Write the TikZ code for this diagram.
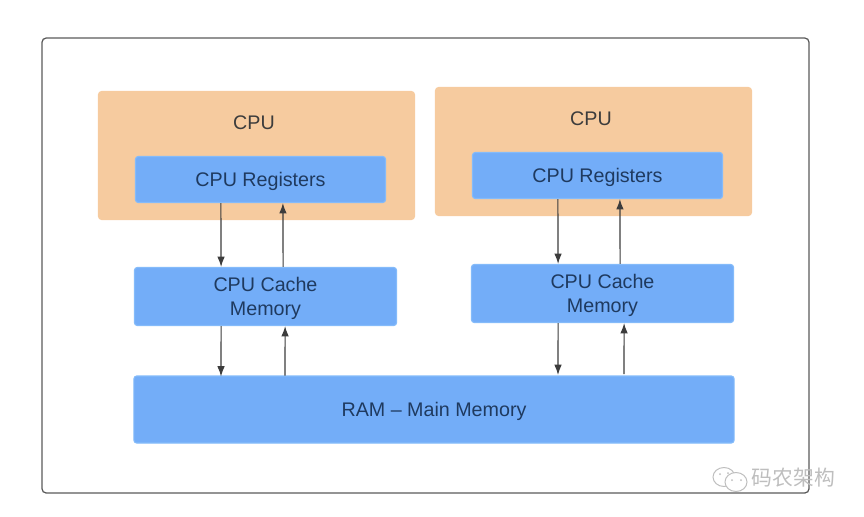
\documentclass[tikz,border=0pt]{standalone}
\usepackage{fontspec}
\setmainfont{Liberation Sans}
\newfontfamily\cjk{Noto Sans CJK SC}
\usetikzlibrary{arrows.meta}
\definecolor{orangefl}{HTML}{F6CB9F}
\definecolor{blaufl}{HTML}{73ADF8}
\definecolor{blaurd}{HTML}{84BBFA}
\definecolor{blautx}{HTML}{1F3A5F}
\definecolor{grau}{HTML}{3C3C3C}
\definecolor{rahmen}{HTML}{5A5A5A}
\definecolor{marke}{HTML}{BEBEBE}
\tikzset{
  cpubox/.style={fill=orangefl,rounded corners=2.5pt,minimum width=7.925cm,minimum height=3.225cm,inner sep=0pt},
  membox/.style={fill=blaufl,draw=blaurd,line width=0.8pt,rounded corners=2pt,inner sep=0pt,text=blautx,text depth=0pt,font=\fontsize{14}{17}\selectfont,align=center},
  regbox/.style={membox,minimum width=6.25cm,minimum height=1.15cm},
  cachebox/.style={membox,minimum width=6.55cm,minimum height=1.45cm},
  titel/.style={grau,font=\fontsize{14}{17}\selectfont},
  pfeil/.style={-{Latex[length=2.6mm,width=1.9mm]},grau,line width=0.8pt},
  marklinie/.style={marke,line width=0.7pt,fill=white},
}
\begin{document}
\begin{tikzpicture}[x=0.025cm,y=-0.025cm]
  \useasboundingbox (0,0) rectangle (864,516);
  \draw[rahmen,line width=0.9pt,rounded corners=3pt] (42,38) rectangle (809,493);
  % left and right CPU
  \node[cpubox] (cpuL) at (256.5,155.5) {};
  \node[cpubox] (cpuR) at (593.5,151.5) {};
  \node[titel] (titelL) at (254,123) {CPU};
  \node[titel] (titelR) at (591,119) {CPU};
  \node[regbox] (regL) at (260.5,179.5) {CPU Registers};
  \node[regbox] (regR) at (597.5,175.5) {CPU Registers};
  \node[cachebox] (cacheL) at (265.5,296.5) {CPU Cache\\Memory};
  \node[cachebox] (cacheR) at (602.5,293.5) {CPU Cache\\Memory};
  \node[membox,minimum width=15cm,minimum height=1.675cm] (ram) at (434,409.5) {RAM -- Main Memory};
  % arrows
  \draw[pfeil] ([xshift=-0.99cm]regL.south) -- ([xshift=-1.11cm]cacheL.north);
  \draw[pfeil] ([xshift=0.44cm]cacheL.north) -- ([xshift=0.56cm]regL.south);
  \draw[pfeil] ([xshift=-0.99cm]regR.south) -- ([xshift=-1.11cm]cacheR.north);
  \draw[pfeil] ([xshift=0.44cm]cacheR.north) -- ([xshift=0.56cm]regR.south);
  \draw[pfeil] ([xshift=-1.11cm]cacheL.south) -- (221,376.5);
  \draw[pfeil] (285,375.5) -- ([xshift=0.49cm]cacheL.south);
  \draw[pfeil] ([xshift=-1.11cm]cacheR.south) -- (558,375);
  \draw[pfeil] (624,374) -- ([xshift=0.54cm]cacheR.south);
  % watermark
  \draw[marklinie] (724,477) ellipse (11 and 9.5);
  \draw[marklinie] (736,482) ellipse (11 and 9.5);
  \fill[marke] (720,474) circle (1) (728,473) circle (1) (732,480) circle (1) (741,480) circle (1);
  \node[marke,font=\cjk\fontsize{14.8}{16}\selectfont,inner sep=0pt] (marke) at (793.5,478) {码农架构};
\end{tikzpicture}
\end{document}
